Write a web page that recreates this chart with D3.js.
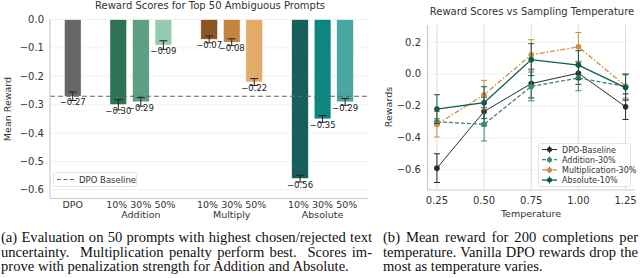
<!DOCTYPE html>
<meta charset="utf-8">
<style>
body { margin: 0; background: #fff; }
text { font-family: "DejaVu Sans", sans-serif; }
text.cap { font-family: "Liberation Serif", serif; }
</style>
<body>
<script src="https://d3js.org/d3.v7.min.js"></script>
<script>
var width = 640, height = 278;

// ---- left chart data ----
var barGroups = ["DPO", "Addition", "Multiply", "Absolute"];
var strengths = ["10%", "30%", "50%"];
var dpoValue = -0.27, dpoErr = 0.015;
var additionValues = [-0.30, -0.29, -0.09];
var multiplyValues = [-0.07, -0.08, -0.22];
var absoluteValues = [-0.56, -0.35, -0.29];
var additionErr = [0.018, 0.015, 0.015];
var multiplyErr = [0.012, 0.012, 0.012];
var absoluteErr = [0.012, 0.012, 0.012];
var barTicks = [0.0, -0.1, -0.2, -0.3, -0.4, -0.5, -0.6];

// ---- right chart data ----
var temps = [0.25, 0.50, 0.75, 1.00, 1.25];
var seriesNames = ["DPO-Baseline", "Addition-30%", "Multiplication-30%", "Absolute-10%"];
var dpoBaseline = [-0.59, -0.235, -0.06, 0.005, -0.205];
var dpoBaselineErr = [0.09, 0.09, 0.09, 0.07, 0.08];
var addition30 = [-0.30, -0.315, -0.078, -0.025, -0.078];
var addition30Err = [0.02, 0.105, 0.09, 0.08, 0.08];
var multiplication30 = [-0.315, -0.13, 0.12, 0.17, -0.075];
var multiplication30Err = [0.08, 0.09, 0.095, 0.09, 0.075];
var absolute10 = [-0.22, -0.18, 0.09, 0.056, -0.085];
var absolute10Err = [0.09, 0.1, 0.1, 0.09, 0.08];
var tempTicks = [0.25, 0.50, 0.75, 1.00, 1.25];
var rewardTicks = [0.2, 0.0, -0.2, -0.4, -0.6];

var captionA = ["(a) Evaluation on 50 prompts with highest chosen/rejected text",
  "uncertainty.  Multiplication penalty perform best.  Scores im-",
  "prove with penalization strength for Addition and Absolute."];
var captionB = ["(b) Mean reward for 200 completions per",
  "temperature. Vanilla DPO rewards drop the",
  "most as temperature varies."];

var svg = d3.select("body").append("svg")
    .attr("width", width)
    .attr("height", height);

var fmt = d3.format(".2f");
function minus(s) { return s.replace("-", "\u2212"); }

// ================= left: bar chart =================
var x = d3.scaleLinear().domain([0, 3.5]).range([50, 368]);
var y = d3.scaleLinear().domain([0, -0.63]).range([19.5, 198.5]);
var barW = 0.185, step = 0.248;

var bars = [{pos: 0.25, v: dpoValue, e: dpoErr, c: "#676767"}];
var palettes = [["#2e7256", "#5e9e82", "#93cab2"],
                ["#8b5524", "#c5843f", "#e2ab6a"],
                ["#175f5a", "#0b8680", "#4aa6a2"]];
[additionValues, multiplyValues, absoluteValues].forEach(function(vals, g) {
  var errs = [additionErr, multiplyErr, absoluteErr][g];
  vals.forEach(function(v, i) {
    bars.push({pos: g + 1 + (i - 1) * step, v: v, e: errs[i], c: palettes[g][i]});
  });
});

var left = svg.append("g");

left.selectAll(".grid").data(barTicks).enter().append("line")
    .attr("x1", 50).attr("x2", 368)
    .attr("y1", function(d) { return y(d); }).attr("y2", function(d) { return y(d); })
    .attr("stroke", "#d4d4d4").attr("stroke-width", 0.8).attr("stroke-dasharray", "1,1.5");

left.selectAll(".ytl").data(barTicks).enter().append("text")
    .attr("x", 44).attr("y", function(d) { return y(d) + 3.5; })
    .attr("text-anchor", "end").attr("font-size", 10).attr("fill", "#333")
    .text(function(d) { return minus(d.toFixed(1)); });

left.selectAll(".bar").data(bars).enter().append("rect")
    .attr("x", function(d) { return x(d.pos - barW / 2); })
    .attr("width", x(barW) - x(0))
    .attr("y", y(0))
    .attr("height", function(d) { return y(d.v) - y(0); })
    .attr("fill", function(d) { return d.c; })
    .attr("stroke", "#fff").attr("stroke-width", 0.6);

var eb = left.selectAll(".eb").data(bars).enter().append("g");
eb.append("line")
    .attr("x1", function(d) { return x(d.pos); }).attr("x2", function(d) { return x(d.pos); })
    .attr("y1", function(d) { return y(d.v + d.e); }).attr("y2", function(d) { return y(d.v - d.e); })
    .attr("stroke", "#222").attr("stroke-width", 1);
eb.selectAll("line.cap").data(function(d) { return [d.v + d.e, d.v - d.e].map(function(v) { return {pos: d.pos, v: v}; }); })
  .enter().append("line")
    .attr("x1", function(d) { return x(d.pos) - 4; }).attr("x2", function(d) { return x(d.pos) + 4; })
    .attr("y1", function(d) { return y(d.v); }).attr("y2", function(d) { return y(d.v); })
    .attr("stroke", "#222").attr("stroke-width", 1);

left.selectAll(".lbl").data(bars).enter().append("text")
    .attr("x", function(d) { return x(d.pos); })
    .attr("y", function(d) { return y(d.v) + 9; })
    .attr("text-anchor", "middle").attr("font-size", 8.5).attr("fill", "#222")
    .text(function(d) { return fmt(d.v); });

// baseline
left.append("line")
    .attr("x1", 50).attr("x2", 368)
    .attr("y1", y(dpoValue)).attr("y2", y(dpoValue))
    .attr("stroke", "#666").attr("stroke-width", 1.1).attr("stroke-dasharray", "5,3");

// spines
left.append("line").attr("x1", 50).attr("x2", 50).attr("y1", 19).attr("y2", y(-0.63))
    .attr("stroke", "#ccc").attr("stroke-width", 1.2);
left.append("line").attr("x1", 50).attr("x2", 368).attr("y1", y(-0.63)).attr("y2", y(-0.63))
    .attr("stroke", "#ccc").attr("stroke-width", 1.2);

// x tick labels
left.append("text").attr("x", x(0.25)).attr("y", 208)
    .attr("text-anchor", "middle").attr("font-size", 9.5).attr("fill", "#333").text("DPO");
barGroups.slice(1).forEach(function(g, i) {
  left.append("text").attr("x", x(i + 1)).attr("y", 208)
      .attr("text-anchor", "middle").attr("font-size", 9.5).attr("fill", "#333")
      .text(strengths.join(" "));
  left.append("text").attr("x", x(i + 1)).attr("y", 217.5)
      .attr("text-anchor", "middle").attr("font-size", 9.5).attr("fill", "#333").text(g);
});

left.append("text")
    .attr("transform", "translate(11,109) rotate(-90)")
    .attr("text-anchor", "middle").attr("font-size", 9.5).attr("fill", "#333").text("Mean Reward");
left.append("text").attr("x", 210).attr("y", 9)
    .attr("text-anchor", "middle").attr("font-size", 10).attr("fill", "#333")
    .text("Reward Scores for Top 50 Ambiguous Prompts");

// legend
var lg = left.append("g");
lg.append("rect").attr("x", 53.5).attr("y", 172.5).attr("width", 83).attr("height", 14).attr("rx", 2)
    .attr("fill", "#fff").attr("stroke", "#ddd").attr("stroke-width", 0.8);
lg.append("line").attr("x1", 57).attr("x2", 74).attr("y1", 179.5).attr("y2", 179.5)
    .attr("stroke", "#666").attr("stroke-width", 1.1).attr("stroke-dasharray", "4,2.5");
lg.append("text").attr("x", 79).attr("y", 182.5).attr("font-size", 8.5).attr("fill", "#333").text("DPO Baseline");

// ================= right: line chart =================
var xr = d3.scaleLinear().domain([0.2, 1.3]).range([427.5, 635]);
var yr = d3.scaleLinear().domain([-0.727, 0.307]).range([190, 25]);
var right = svg.append("g");

right.selectAll(".vg").data(tempTicks).enter().append("line")
    .attr("x1", function(d) { return xr(d); }).attr("x2", function(d) { return xr(d); })
    .attr("y1", 25).attr("y2", 190)
    .attr("stroke", "#ddd").attr("stroke-width", 1);
right.selectAll(".hg").data(rewardTicks).enter().append("line")
    .attr("x1", 427.5).attr("x2", 635)
    .attr("y1", function(d) { return yr(d); }).attr("y2", function(d) { return yr(d); })
    .attr("stroke", "#d4d4d4").attr("stroke-width", 0.8).attr("stroke-dasharray", "1,1.5");

right.append("line").attr("x1", 427.5).attr("x2", 427.5).attr("y1", 25).attr("y2", 190)
    .attr("stroke", "#ccc").attr("stroke-width", 1.2);
right.append("line").attr("x1", 427.5).attr("x2", 635).attr("y1", 190).attr("y2", 190)
    .attr("stroke", "#ccc").attr("stroke-width", 1.2);

right.selectAll(".ytl").data(rewardTicks).enter().append("text")
    .attr("x", 421).attr("y", function(d) { return yr(d) + 3.5; })
    .attr("text-anchor", "end").attr("font-size", 10).attr("fill", "#333")
    .text(function(d) { return minus(d.toFixed(1)); });
right.selectAll(".xtl").data(tempTicks).enter().append("text")
    .attr("x", function(d) { return xr(d); }).attr("y", 204)
    .attr("text-anchor", "middle").attr("font-size", 10).attr("fill", "#333")
    .text(function(d) { return d.toFixed(2); });

right.append("text").attr("x", 531).attr("y", 217)
    .attr("text-anchor", "middle").attr("font-size", 9.5).attr("fill", "#333").text("Temperature");
right.append("text")
    .attr("transform", "translate(392,107) rotate(-90)")
    .attr("text-anchor", "middle").attr("font-size", 9.5).attr("fill", "#333").text("Rewards");
right.append("text").attr("x", 532).attr("y", 15)
    .attr("text-anchor", "middle").attr("font-size", 10).attr("fill", "#333")
    .text("Reward Scores vs Sampling Temperature");

var series = [
  {name: seriesNames[0], v: dpoBaseline, e: dpoBaselineErr, c: "#2b2b2b", dash: null, w: 1},
  {name: seriesNames[1], v: addition30, e: addition30Err, c: "#3b8a68", dash: "4,2", w: 1.3},
  {name: seriesNames[2], v: multiplication30, e: multiplication30Err, c: "#d48a3c", dash: "5,2,1.5,2", w: 1.3},
  {name: seriesNames[3], v: absolute10, e: absolute10Err, c: "#0d5a50", dash: null, w: 1.3}
];

var line = d3.line()
    .x(function(d) { return xr(d[0]); })
    .y(function(d) { return yr(d[1]); });

series.forEach(function(s) {
  var pts = temps.map(function(t, i) { return [t, s.v[i], s.e[i]]; });
  var g = right.append("g");
  var ebs = g.selectAll(".eb").data(pts).enter().append("g");
  ebs.append("line")
      .attr("x1", function(d) { return xr(d[0]); }).attr("x2", function(d) { return xr(d[0]); })
      .attr("y1", function(d) { return yr(d[1] + d[2]); }).attr("y2", function(d) { return yr(d[1] - d[2]); })
      .attr("stroke", s.c).attr("stroke-width", 1);
  [1, -1].forEach(function(sign) {
    ebs.append("line")
        .attr("x1", function(d) { return xr(d[0]) - 3; }).attr("x2", function(d) { return xr(d[0]) + 3; })
        .attr("y1", function(d) { return yr(d[1] + sign * d[2]); }).attr("y2", function(d) { return yr(d[1] + sign * d[2]); })
        .attr("stroke", s.c).attr("stroke-width", 1);
  });
  g.append("path").datum(pts).attr("d", line)
      .attr("fill", "none").attr("stroke", s.c).attr("stroke-width", s.w)
      .attr("stroke-dasharray", s.dash);
  g.selectAll("circle").data(pts).enter().append("circle")
      .attr("cx", function(d) { return xr(d[0]); }).attr("cy", function(d) { return yr(d[1]); })
      .attr("r", 2.8).attr("fill", s.c);
});

// right legend
var rl = right.append("g");
rl.append("rect").attr("x", 538.5).attr("y", 143.5).attr("width", 92).attr("height", 43).attr("rx", 2)
    .attr("fill", "#fff").attr("fill-opacity", 0.85).attr("stroke", "#ddd").attr("stroke-width", 0.8);
series.forEach(function(s, i) {
  var yy = 149.5 + i * 10.2;
  rl.append("line").attr("x1", 542).attr("x2", 557).attr("y1", yy).attr("y2", yy)
      .attr("stroke", s.c).attr("stroke-width", s.w).attr("stroke-dasharray", s.dash);
  rl.append("line").attr("x1", 549.5).attr("x2", 549.5).attr("y1", yy - 3.5).attr("y2", yy + 3.5)
      .attr("stroke", s.c).attr("stroke-width", 1);
  rl.append("circle").attr("cx", 549.5).attr("cy", yy).attr("r", 2.5).attr("fill", s.c);
  rl.append("text").attr("x", 562).attr("y", yy + 3).attr("font-size", 8).attr("fill", "#333").text(s.name);
});

// ================= captions =================
// justified lines: spread the spare width over the word gaps
function caption(lines, x0, w) {
  lines.forEach(function(t, i) {
    var tx = svg.append("text")
        .attr("class", "cap")
        .attr("x", x0).attr("y", 242 + i * 14.5)
        .attr("font-size", 14.6).attr("fill", "#111")
        .style("white-space", "pre")
        .text(t);
    if (i < lines.length - 1) {
      var natural = tx.node().getComputedTextLength();
      var gaps = (t.match(/ /g) || []).length;
      if (gaps) tx.attr("word-spacing", (w - natural) / gaps);
    }
  });
}
caption(captionA, 1, 371);
caption(captionB, 383, 255);
</script>
</body>
